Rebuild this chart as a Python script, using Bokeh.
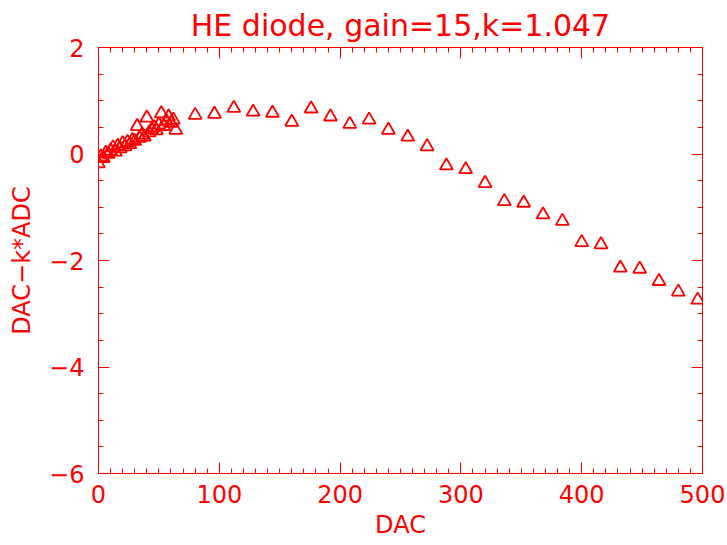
from bokeh.plotting import figure
from bokeh.models import (LinearAxis, SingleIntervalTicker, Range1d, CustomJSTickFormatter, ColumnDataSource)
from bokeh.embed import file_html
from bokeh.resources import INLINE

# ---- data ----
dac_low = [0, 2, 4, 6, 8, 10, 12, 14, 16, 18, 20, 22, 24, 26, 28, 30, 32,
           34, 36, 38, 40, 42, 44, 46, 48, 50, 52, 54, 56, 58, 60, 62, 64]
res_low = [-0.18, -0.05, -0.08, 0.02, 0.00, 0.06, 0.12, 0.04, 0.15, 0.10, 0.20,
           0.14, 0.22, 0.18, 0.26, 0.24, 0.52, 0.30, 0.36, 0.32, 0.68, 0.40,
           0.46, 0.50, 0.44, 0.55, 0.76, 0.52, 0.62, 0.70, 0.58, 0.64, 0.45]
dac_high = [80, 96, 112, 128, 144, 160, 176, 192, 208, 224, 240, 256, 272, 288,
            304, 320, 336, 352, 368, 384, 400, 416, 432, 448, 464, 480, 496]
res_high = [0.73, 0.75, 0.86, 0.79, 0.77, 0.60, 0.85, 0.70, 0.56, 0.64, 0.45,
            0.32, 0.14, -0.22, -0.29, -0.55, -0.89, -0.92, -1.14, -1.26, -1.66,
            -1.70, -2.14, -2.16, -2.39, -2.59, -2.74]

title_text = "HE diode, gain=15,k=1.047"
x_label = "DAC"
y_label = "DAC\u2212k*ADC"

RED = "#ff0000"
FONT = "DejaVu Sans"

src = ColumnDataSource(dict(x=dac_low + dac_high, y=res_low + res_high))

p = figure(width=727, height=545, output_backend="svg", toolbar_location=None,
           x_range=Range1d(0, 500), y_range=Range1d(-6, 2),
           x_axis_type=None, y_axis_type=None,
           min_border_left=98, min_border_right=25, min_border_top=47, min_border_bottom=71,
           background_fill_color="white", border_fill_color="white")
p.frame_width = 604
p.frame_height = 426

p.title.text = title_text
p.title.text_color = RED
p.title.text_font = FONT
p.title.text_font_style = "normal"
p.title.text_font_size = "30px"
p.title.align = "center"
p.title.standoff = 10

p.outline_line_color = RED
p.outline_line_width = 1
p.grid.visible = False

minus_fmt = CustomJSTickFormatter(code="return tick.toString().replace('-', '\u2212');")
blank_fmt = CustomJSTickFormatter(code="return '';")

def style(ax, labels=True):
    ax.axis_line_color = RED
    ax.major_tick_line_color = RED
    ax.minor_tick_line_color = RED
    ax.major_tick_in = 11
    ax.major_tick_out = 0
    ax.minor_tick_in = 5
    ax.minor_tick_out = 0
    ax.major_label_text_color = RED
    ax.major_label_text_font = FONT
    ax.major_label_text_font_size = "24px"
    ax.axis_label_text_color = RED
    ax.axis_label_text_font = FONT
    ax.axis_label_text_font_size = "24px"
    ax.axis_label_text_font_style = "normal"
    if not labels:
        ax.formatter = blank_fmt
        ax.major_label_standoff = 0
        ax.axis_label_standoff = 0

xt = SingleIntervalTicker(interval=100, num_minor_ticks=10)
yt = SingleIntervalTicker(interval=2, num_minor_ticks=4)

xb = LinearAxis(ticker=xt, formatter=minus_fmt, axis_label=x_label)
style(xb)
xb.major_label_standoff = 11
xb.axis_label_standoff = 5
p.add_layout(xb, "below")

yl = LinearAxis(ticker=yt, formatter=minus_fmt, axis_label=y_label)
style(yl)
yl.major_label_standoff = 14
yl.axis_label_standoff = 10
yl.major_label_orientation = "horizontal"
p.add_layout(yl, "left")

xtop = LinearAxis(ticker=SingleIntervalTicker(interval=100, num_minor_ticks=10))
style(xtop, labels=False)
p.add_layout(xtop, "above")

yr = LinearAxis(ticker=SingleIntervalTicker(interval=2, num_minor_ticks=4))
style(yr, labels=False)
p.add_layout(yr, "right")

p.scatter("x", "y", source=src, marker="triangle", size=13,
          fill_color=None, line_color=RED, line_width=1.8)

open("out.html", "w").write(file_html(p, INLINE))
